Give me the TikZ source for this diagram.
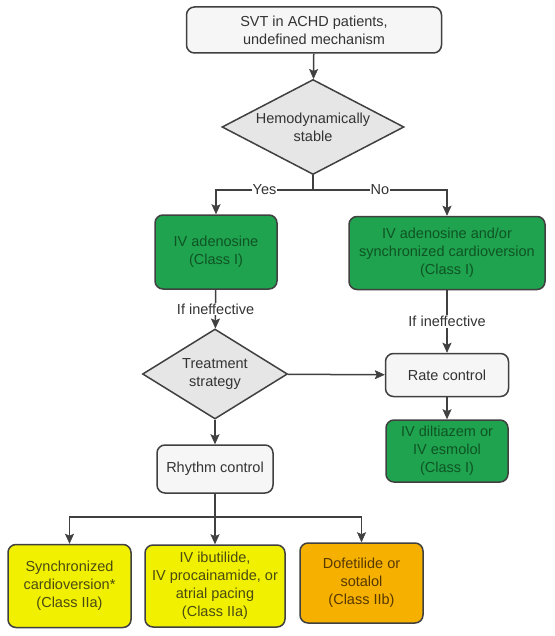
\documentclass[tikz,border=0pt]{standalone}
\usepackage{fontspec}
\setmainfont{Liberation Sans}
\usetikzlibrary{shapes.geometric,arrows.meta}
\definecolor{edgegray}{HTML}{404040}
\definecolor{textgray}{HTML}{333333}
\definecolor{boxgray}{HTML}{F6F6F6}
\definecolor{diagray}{HTML}{E6E6E6}
\definecolor{classone}{HTML}{1FA34E}
\definecolor{classonetext}{HTML}{0F5424}
\definecolor{classtwoa}{HTML}{F0F000}
\definecolor{classtwoatext}{HTML}{4A4A12}
\definecolor{classtwob}{HTML}{F5B000}
\definecolor{classtwobtext}{HTML}{573800}
\begin{document}
\begin{tikzpicture}[x=1pt,y=-1pt,
        font=\fontsize{14.5}{18}\selectfont, color=edgegray, text=textgray, line width=1.5pt,
        >={Stealth[length=10pt,width=9pt,inset=2pt,fill=edgegray,line width=0.5pt]},
        box/.style={draw=edgegray, rounded corners=8pt, align=center, inner sep=0pt},
        plain/.style={box, fill=boxgray},
        choice/.style={draw=edgegray, fill=diagray, shape=diamond, aspect=2, align=center, inner sep=0pt},
        ione/.style={box, fill=classone, text=classonetext},
        iia/.style={box, fill=classtwoa, text=classtwoatext},
        iib/.style={box, fill=classtwob, text=classtwobtext},
        tag/.style={fill=white, inner sep=1pt, text=textgray}]
        \fill[white] (0,0) rectangle (554,636);
        \node[plain, minimum width=255pt, minimum height=46pt] (start) at (314,30) {SVT in ACHD patients,\\undefined mechanism};
        \node[choice, minimum width=182pt, minimum height=95pt] (stable) at (313,127) {Hemodynamically\\stable};
        \coordinate (fork) at (313,190);
        \node[ione, minimum width=122pt, minimum height=74pt] (ivAdeno) at (216,252) {IV adenosine\\(Class I)};
        \node[ione, minimum width=196pt, minimum height=73pt] (ivCardio) at (447,253) {IV adenosine and/or\\synchronized cardioversion\\(Class I)};
        \node[choice, minimum width=145pt, minimum height=90pt] (strategy) at (215,374) {Treatment\\strategy};
        \node[plain, minimum width=123pt, minimum height=43pt] (rate) at (447,375) {Rate control};
        \node[ione, minimum width=122pt, minimum height=62pt] (ivDilt) at (447,451) {IV diltiazem or\\IV esmolol\\(Class I)};
        \node[plain, minimum width=116pt, minimum height=48pt] (rhythm) at (215,469) {Rhythm control};
        \coordinate (forkLow) at (215,517);
        \node[iia, minimum width=123pt, minimum height=83pt] (synCard) at (69.5,586) {Synchronized\\cardioversion*\\(Class IIa)};
        \node[iia, minimum width=140pt, minimum height=82pt] (ibut) at (215,586) {IV ibutilide,\\IV procainamide, or\\atrial pacing\\(Class IIa)};
        \node[iib, minimum width=123pt, minimum height=80pt] (dofet) at (361.5,583) {Dofetilide or\\sotalol\\(Class IIb)};

        \draw[->] (start) -- (stable);
        \draw[->] (stable) -- (fork) -| node[tag, pos=0.25] {Yes} (ivAdeno);
        \draw[->] (fork) -| node[tag, pos=0.25] {No} (ivCardio);
        \draw[->] (ivAdeno) -- node[tag] {If ineffective} (strategy);
        \draw[->] (ivCardio) -- node[tag] {If ineffective} (rate);
        \draw[->] (strategy) -- (rate);
        \draw[->] (rate) -- (ivDilt);
        \draw[->] (strategy) -- (rhythm);
        \draw[->] (rhythm) -- (forkLow) -| (synCard);
        \draw[->] (forkLow) -- (ibut);
        \draw[->] (forkLow) -| (dofet);
    \end{tikzpicture}
\end{document}
